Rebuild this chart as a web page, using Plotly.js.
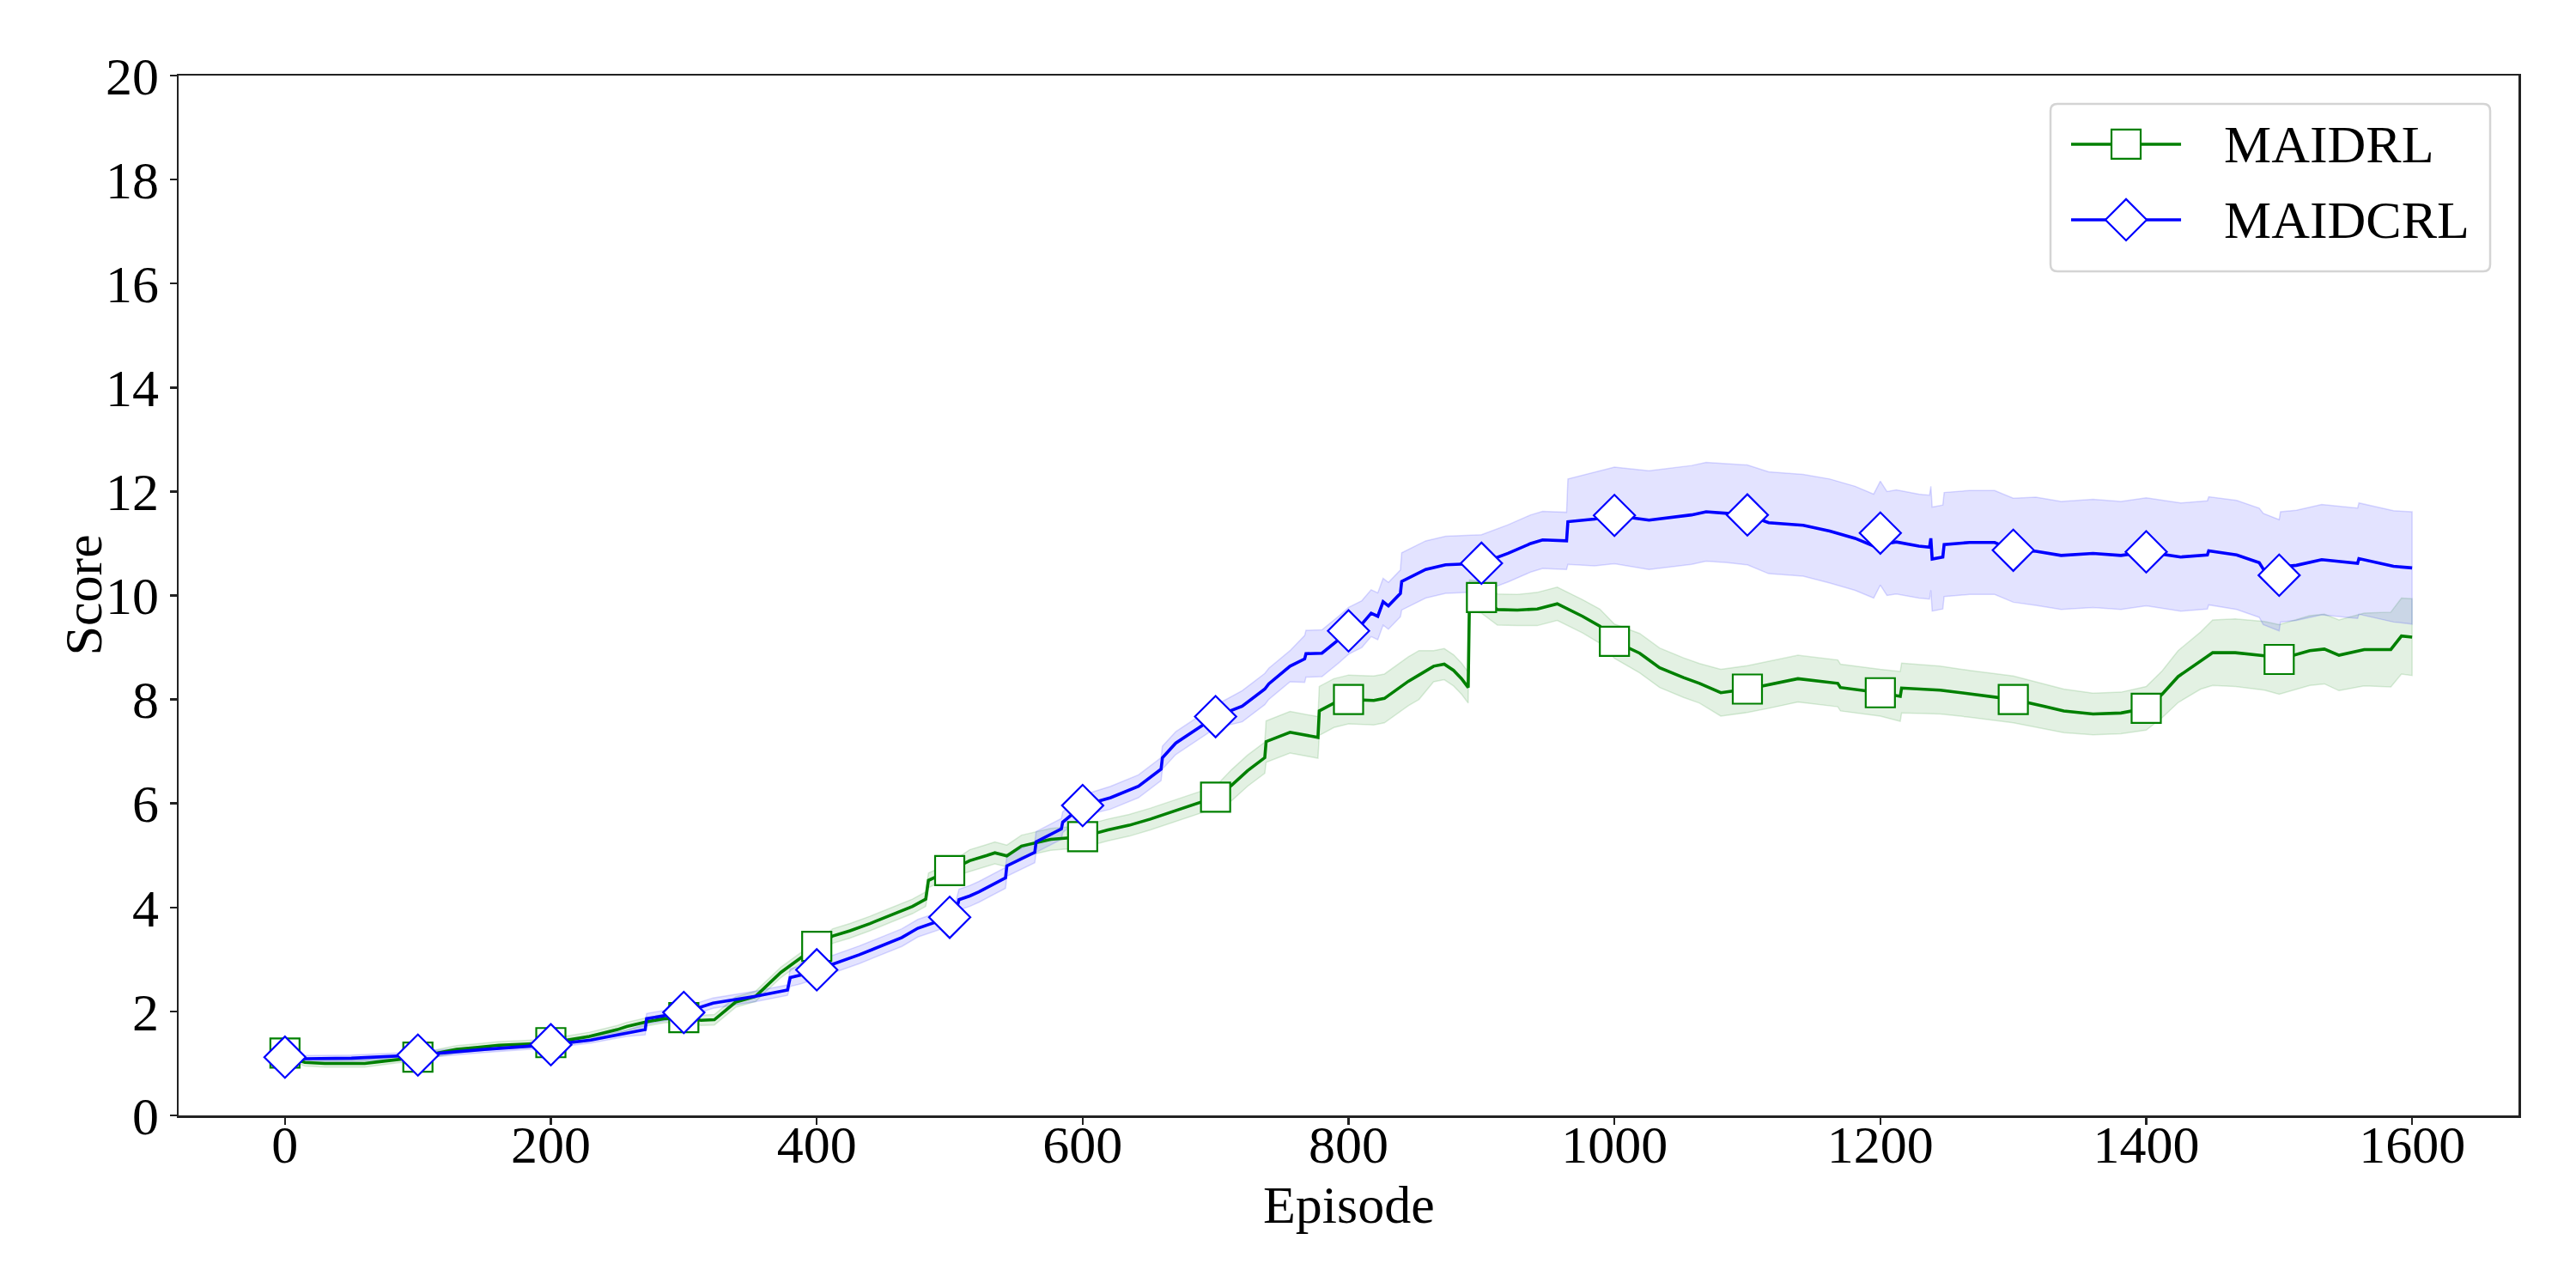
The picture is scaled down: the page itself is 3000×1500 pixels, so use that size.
<!DOCTYPE html>
<html>
<head>
<meta charset="utf-8">
<script src="https://cdn.plot.ly/plotly-3.0.1.min.js"></script>
<style>html,body{margin:0;padding:0;background:#fff;}#chart{width:3000px;height:1500px;}</style>
</head>
<body>
<div id="chart"></div>
<script>
// ---------- DATA ----------
const seriesNames = ["MAIDRL", "MAIDCRL"];
const xTitle = "Episode";
const yTitle = "Score";
const xTicks = [0, 200, 400, 600, 800, 1000, 1200, 1400, 1600];
const yTicks = [0, 2, 4, 6, 8, 10, 12, 14, 16, 18, 20];

// MAIDRL (green)
const episodesMAIDRL = [0, 8, 15, 30, 45, 60, 70, 85, 100, 115, 129, 145, 161, 180, 200,
  215, 229, 250, 257, 272, 285, 300,
  313, 323, 339, 354, 363, 373, 388, 400,
  412, 425, 440, 459, 472, 482, 484, 500,
  515, 528, 534, 543, 554, 576, 600, 619, 635, 651, 673, 700,
  712, 724, 737,
  738, 756, 769, 777,
  778, 789, 800, 819, 827, 845, 853,
  864, 872, 879, 885, 890,
  891, 900, 912, 927, 942, 957, 976, 989, 1000,
  1019, 1034, 1052, 1064,
  1080, 1100, 1116, 1138, 1168, 1170, 1200,
  1215, 1216, 1245, 1267, 1300, 1323,
  1338, 1360, 1381, 1400, 1412, 1424, 1441,
  1450, 1467, 1489, 1500, 1523, 1534, 1545,
  1564, 1584, 1592, 1600];
const scoreMAIDRL = [1.20, 1.08, 1.02, 1.00, 1.00, 1.00, 1.03, 1.08, 1.12, 1.20, 1.27, 1.31, 1.35, 1.37, 1.40,
  1.46, 1.52, 1.65, 1.71, 1.80, 1.86, 1.88,
  1.83, 1.84, 2.18, 2.29, 2.51, 2.75, 3.03, 3.25,
  3.45, 3.55, 3.69, 3.89, 4.02, 4.16, 4.52, 4.71,
  4.90, 5.00, 5.05, 4.99, 5.18, 5.31, 5.36, 5.49, 5.58, 5.70, 5.89, 6.12,
  6.35, 6.63, 6.88,
  7.19, 7.37, 7.31, 7.27,
  7.78, 7.93, 8.00, 7.98, 8.02, 8.35, 8.47,
  8.64, 8.68, 8.56, 8.40, 8.23,
  10.00, 9.96, 9.73, 9.72, 9.74, 9.84, 9.60, 9.41, 9.12,
  8.89, 8.61, 8.42, 8.31,
  8.13, 8.20, 8.28, 8.40, 8.31, 8.23, 8.13,
  8.06, 8.22, 8.18, 8.11, 8.00, 7.87,
  7.78, 7.72, 7.74, 7.83, 8.10, 8.44, 8.75,
  8.90, 8.90, 8.84, 8.77, 8.94, 8.97, 8.85,
  8.96, 8.96, 9.22, 9.20];
const spreadMAIDRL = [0.07, 0.07, 0.07, 0.07, 0.07, 0.07, 0.07, 0.07, 0.07, 0.07, 0.07, 0.07, 0.07, 0.07, 0.07,
  0.08, 0.08, 0.08, 0.08, 0.08, 0.08, 0.08,
  0.10, 0.10, 0.10, 0.10, 0.10, 0.10, 0.10, 0.10,
  0.14, 0.14, 0.14, 0.14, 0.14, 0.14, 0.14, 0.14,
  0.21, 0.21, 0.21, 0.21, 0.21, 0.21, 0.21, 0.21, 0.21, 0.21, 0.21, 0.21,
  0.30, 0.30, 0.30,
  0.40, 0.40, 0.40, 0.40,
  0.47, 0.47, 0.47, 0.47, 0.47, 0.47, 0.47,
  0.30, 0.30, 0.30, 0.30, 0.30,
  0.30, 0.30, 0.30, 0.30, 0.32, 0.32, 0.32, 0.33, 0.33,
  0.38, 0.38, 0.38, 0.38,
  0.45, 0.45, 0.45, 0.45, 0.45, 0.45, 0.45,
  0.48, 0.48, 0.46, 0.45, 0.45, 0.43,
  0.42, 0.40, 0.40, 0.42, 0.45, 0.50, 0.55,
  0.63, 0.65, 0.66, 0.67, 0.67, 0.67, 0.68,
  0.70, 0.72, 0.73, 0.74];

// MAIDCRL (blue)
const episodesMAIDCRL = [0, 15, 50, 85, 100, 150, 200, 230, 257,
  271, 272, 285, 300, 322, 354, 378,
  380, 388, 400, 432, 464, 476, 500,
  505, 507, 515, 522, 542, 543, 564, 565, 584, 585, 600,
  621, 642, 659, 660, 670, 700,
  720, 737, 740, 756,
  767, 768, 780, 793, 800, 810, 817, 822, 826, 830, 839,
  840, 858, 873, 885, 900, 920, 937, 946, 964,
  965, 985, 1000, 1026, 1058, 1069, 1085, 1100,
  1116, 1142, 1162, 1181, 1195, 1200, 1205, 1212, 1229, 1237, 1238, 1239, 1247, 1248, 1267, 1286, 1300,
  1317, 1336, 1360, 1381, 1400, 1426, 1446, 1447, 1468, 1485, 1488, 1500, 1501, 1513, 1532, 1559, 1560, 1586, 1600];
const scoreMAIDCRL = [1.12, 1.09, 1.10, 1.14, 1.16, 1.27, 1.36, 1.45, 1.58,
  1.65, 1.86, 1.92, 1.98, 2.16, 2.29, 2.41,
  2.65, 2.70, 2.80, 3.09, 3.42, 3.60, 3.81,
  3.95, 4.15, 4.22, 4.30, 4.57, 4.80, 5.06, 5.26, 5.51, 5.64, 5.96,
  6.11, 6.33, 6.66, 6.88, 7.16, 7.67,
  7.87, 8.20, 8.30, 8.64,
  8.78, 8.88, 8.89, 9.16, 9.32, 9.45, 9.66, 9.60, 9.88, 9.80, 10.04,
  10.27, 10.50, 10.59, 10.60, 10.62, 10.81, 11.00, 11.07, 11.05,
  11.42, 11.47, 11.54, 11.45, 11.55, 11.61, 11.58, 11.55,
  11.40, 11.35, 11.24, 11.10, 10.95, 11.20, 11.00, 11.03, 10.95, 10.93, 11.10, 10.70, 10.74, 10.98, 11.02, 11.02, 10.87,
  10.85, 10.77, 10.81, 10.77, 10.84, 10.74, 10.78, 10.86, 10.78, 10.63, 10.51, 10.39, 10.55, 10.58, 10.69, 10.62, 10.71, 10.56, 10.53];
const spreadMAIDCRL = [0.06, 0.06, 0.06, 0.06, 0.06, 0.06, 0.06, 0.06, 0.06,
  0.10, 0.10, 0.10, 0.10, 0.10, 0.10, 0.10,
  0.17, 0.17, 0.17, 0.17, 0.17, 0.17, 0.17,
  0.20, 0.20, 0.20, 0.20, 0.20, 0.20, 0.20, 0.20, 0.20, 0.20, 0.20,
  0.22, 0.22, 0.22, 0.22, 0.22, 0.22,
  0.30, 0.30, 0.30, 0.30,
  0.45, 0.45, 0.45, 0.45, 0.45, 0.45, 0.45, 0.45, 0.45, 0.45, 0.45,
  0.55, 0.55, 0.55, 0.55, 0.55, 0.55, 0.55, 0.55, 0.55,
  0.82, 0.90, 0.93, 0.95, 0.95, 0.95, 0.95, 0.96,
  0.98, 0.98, 1.00, 1.00, 1.00, 1.00, 1.00, 1.00, 1.00, 1.00, 1.00, 1.00, 1.00, 1.00, 1.00, 1.00, 1.00,
  1.04, 1.04, 1.04, 1.04, 1.04, 1.04, 1.04, 1.04, 1.05, 1.05, 1.07, 1.07, 1.06, 1.06, 1.06, 1.06, 1.07, 1.07, 1.08];

const markerEvery = 100;
const markerLast = 1500;

// ---------- STYLE ----------
const FONT = "Liberation Serif, Times New Roman, serif";
const FS = 62;
const styles = [
  {color: "#008000", fill: "rgba(0,128,0,0.11)", edge: "rgba(0,128,0,0.14)", symbol: "square", size: 34},
  {color: "#0000ff", fill: "rgba(0,0,255,0.11)", edge: "rgba(0,0,255,0.14)", symbol: "diamond", size: 37}
];
const series = [
  {x: episodesMAIDRL, y: scoreMAIDRL, s: spreadMAIDRL},
  {x: episodesMAIDCRL, y: scoreMAIDCRL, s: spreadMAIDCRL}
];

const bands = [], lines = [];
series.forEach((d, i) => {
  const st = styles[i];
  const up = d.y.map((v, k) => v + d.s[k]);
  const lo = d.y.map((v, k) => v - d.s[k]);
  bands.push({
    x: d.x.concat(d.x.slice().reverse()),
    y: up.concat(lo.slice().reverse()),
    type: "scatter", mode: "lines", fill: "toself",
    fillcolor: st.fill, line: {color: st.edge, width: 1.5},
    hoverinfo: "skip", showlegend: false
  });
  const mx = [], my = [];
  d.x.forEach((xv, k) => { if (xv % markerEvery === 0 && xv <= markerLast) { mx.push(xv); my.push(d.y[k]); } });
  lines.push({
    x: d.x, y: d.y, type: "scatter", mode: "lines",
    line: {color: st.color, width: 3.6}, showlegend: false, name: seriesNames[i]
  });
  lines.push({
    x: mx, y: my, type: "scatter", mode: "markers",
    marker: {symbol: st.symbol, size: st.size, color: "#ffffff", line: {color: st.color, width: 2.2}},
    showlegend: false, name: seriesNames[i]
  });
});

// ---------- CUSTOM LEGEND (paper-like overlay axes) ----------
const legX0 = 0.800, legX1 = 0.9879, legY0 = 0.8117, legY1 = 0.9727;
const rowY = [0.934, 0.8613];
const segX = [0.8088, 0.8558];
const legendTraces = [];
const annotations = [];
seriesNames.forEach((nm, i) => {
  const st = styles[i];
  legendTraces.push({
    x: segX, y: [rowY[i], rowY[i]], xaxis: "x2", yaxis: "y2",
    type: "scatter", mode: "lines", line: {color: st.color, width: 3.6},
    showlegend: false, hoverinfo: "skip"
  });
  legendTraces.push({
    x: [(segX[0] + segX[1]) / 2], y: [rowY[i]], xaxis: "x2", yaxis: "y2",
    type: "scatter", mode: "markers",
    marker: {symbol: st.symbol, size: st.size, color: "#ffffff", line: {color: st.color, width: 2.2}},
    showlegend: false, hoverinfo: "skip"
  });
  annotations.push({
    xref: "paper", yref: "paper", x: 0.8734, y: rowY[i],
    xanchor: "left", yanchor: "middle", showarrow: false,
    text: nm, font: {family: FONT, size: FS, color: "#000"}
  });
});
// axis titles
annotations.push({
  xref: "paper", yref: "paper", x: 0.5, y: -0.0855, xanchor: "center", yanchor: "middle",
  showarrow: false, text: xTitle, font: {family: FONT, size: FS, color: "#000"}
});
annotations.push({
  xref: "paper", yref: "paper", x: -0.0411, y: 0.5, xanchor: "center", yanchor: "middle",
  textangle: -90, showarrow: false, text: yTitle, font: {family: FONT, size: FS, color: "#000"}
});

const rx = 8 / 2725, ry = 8 / 1211;
const legendPath = `M ${legX0 + rx} ${legY1} L ${legX1 - rx} ${legY1} Q ${legX1} ${legY1} ${legX1} ${legY1 - ry} ` +
  `L ${legX1} ${legY0 + ry} Q ${legX1} ${legY0} ${legX1 - rx} ${legY0} L ${legX0 + rx} ${legY0} ` +
  `Q ${legX0} ${legY0} ${legX0} ${legY0 + ry} L ${legX0} ${legY1 - ry} Q ${legX0} ${legY1} ${legX0 + rx} ${legY1} Z`;

const axisCommon = {
  showline: true, linecolor: "#222", linewidth: 2.5, mirror: true,
  ticks: "outside", ticklen: 8, tickwidth: 2.5, tickcolor: "#222",
  showgrid: false, zeroline: false, automargin: false,
  tickfont: {family: FONT, size: FS, color: "#000"}
};

const layout = {
  width: 3000, height: 1500,
  margin: {l: 208, r: 67, t: 88, b: 201},
  paper_bgcolor: "#fff", plot_bgcolor: "#fff",
  font: {family: FONT, size: FS, color: "#000"},
  showlegend: false,
  xaxis: Object.assign({}, axisCommon, {
    range: [-80, 1680], tickmode: "array", tickvals: xTicks, ticktext: xTicks.map(String),
    ticklabelstandoff: -30
  }),
  yaxis: Object.assign({}, axisCommon, {
    range: [0, 20], tickmode: "array", tickvals: yTicks, ticktext: yTicks.map(String)
  }),
  xaxis2: {overlaying: "x", range: [0, 1], visible: false, fixedrange: true},
  yaxis2: {overlaying: "y", range: [0, 1], visible: false, fixedrange: true},
  shapes: [{type: "path", xref: "paper", yref: "paper", path: legendPath,
    line: {color: "#d4d4d4", width: 2.5}, fillcolor: "rgba(255,255,255,0.8)", layer: "below"}],
  annotations: annotations
};

Plotly.newPlot("chart", bands.concat(lines, legendTraces), layout, {staticPlot: true, displayModeBar: false});
</script>
</body>
</html>
